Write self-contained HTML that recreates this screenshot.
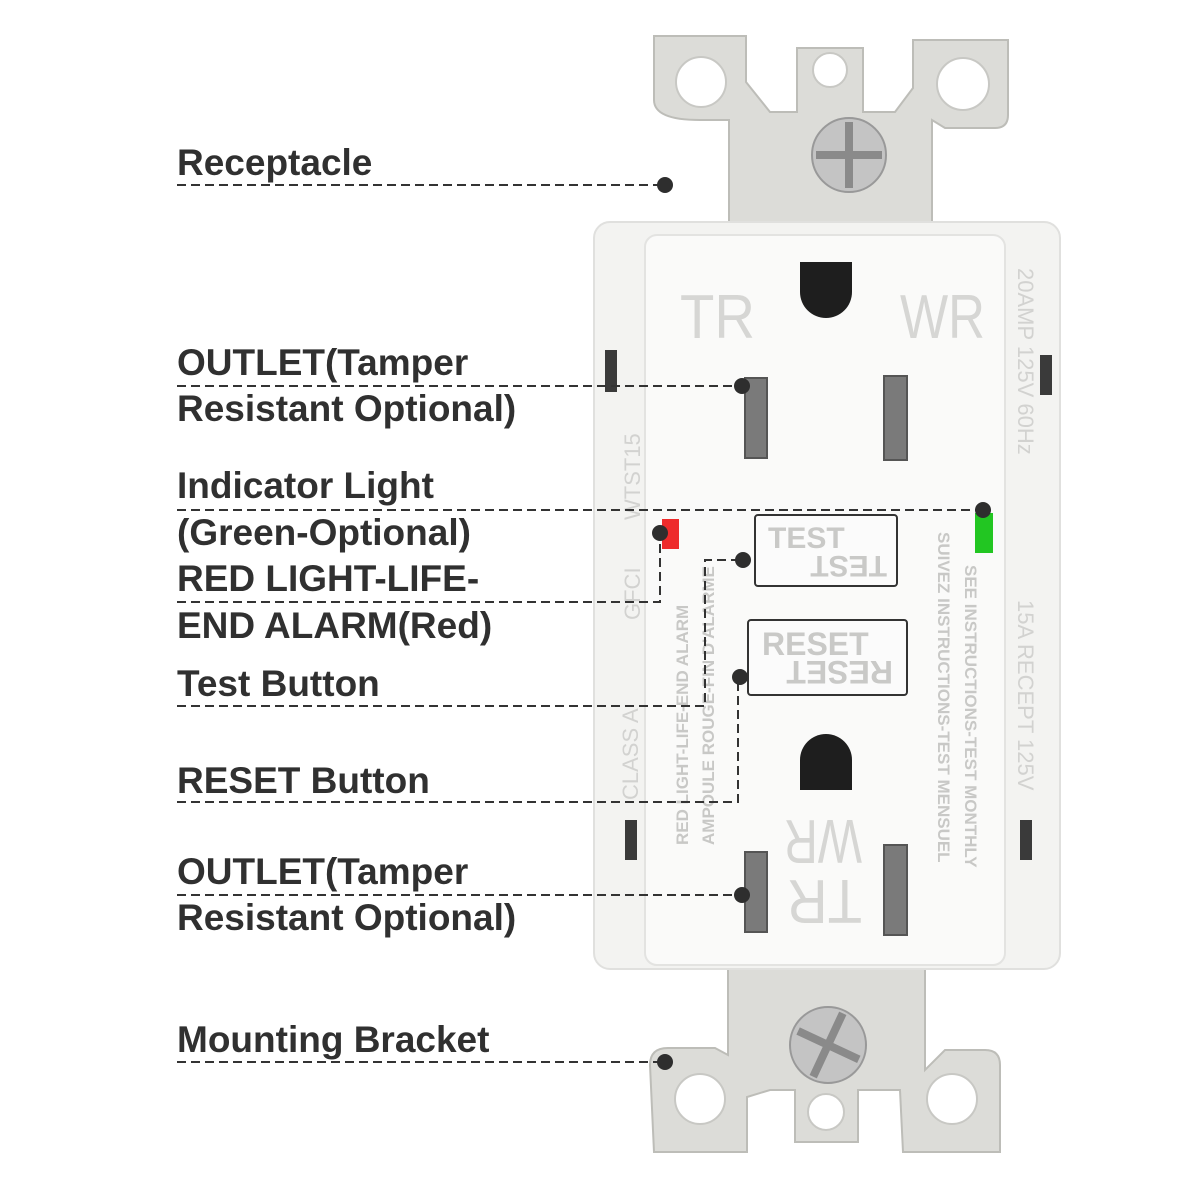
<!DOCTYPE html>
<html><head><style>
html,body{margin:0;padding:0;background:#fff;}
svg{display:block;}
.lb{font-family:"Liberation Sans",sans-serif;font-weight:bold;font-size:37px;fill:#303030;}
.dl{stroke:#333;stroke-width:2;stroke-dasharray:9,5;fill:none;}
.gt{font-family:"Liberation Sans",sans-serif;fill:#d6d6d4;}
.st{font-family:"Liberation Sans",sans-serif;fill:#c9c9c7;font-weight:bold;}
</style></head><body>
<svg width="1200" height="1200" viewBox="0 0 1200 1200" xmlns="http://www.w3.org/2000/svg">
<rect width="1200" height="1200" fill="#fff"/>
<g fill="#dcdcd8" stroke="#bdbdb8" stroke-width="2">
<path d="M654 36 H746 V82 L770 112 L797 112 V48 H863 V112 L895 112 L913 88 V40 H1008 V115 Q1008 128 995 128 H945 L932 120 V240 H729 V120 H700 Q654 120 654 100 Z"/>
<path d="M654 1152 H747 V1097 L770 1090 H795 V1142 H858 V1090 H900 L903 1152 H1000 V1065 Q1000 1050 985 1050 H945 L925 1070 V968 H728 V1055 L715 1048 H668 Q650 1048 650 1065 Z"/>
</g>
<g fill="#fff" stroke="#c8c8c4" stroke-width="2">
<circle cx="701" cy="82" r="25"/><circle cx="830" cy="70" r="17"/><circle cx="963" cy="84" r="26"/>
<circle cx="700" cy="1099" r="25"/><circle cx="826" cy="1112" r="18"/><circle cx="952" cy="1099" r="25"/>
</g>
<g>
<circle cx="849" cy="155" r="37" fill="#c4c4c4" stroke="#999" stroke-width="2"/>
<path d="M849 122 V188 M816 155 H882" stroke="#8a8a8a" stroke-width="8"/>
<circle cx="828" cy="1045" r="38" fill="#c4c4c4" stroke="#999" stroke-width="2"/>
<path d="M828 1010 V1080 M795 1045 H862" stroke="#8a8a8a" stroke-width="8" transform="rotate(25 828 1045)"/>
</g>
<rect x="594" y="222" width="466" height="747" rx="16" fill="#f3f3f1" stroke="#e0e0de" stroke-width="2"/>
<rect x="645" y="235" width="360" height="730" rx="12" fill="#fafaf9" stroke="#e3e3e1" stroke-width="2"/>
<g fill="#3a3a3a">
<rect x="605" y="350" width="12" height="42"/><rect x="1040" y="355" width="12" height="40"/>
<rect x="625" y="820" width="12" height="40"/><rect x="1020" y="820" width="12" height="40"/>
</g>
<path d="M800 262 H852 V292 A26 26 0 0 1 800 292 Z" fill="#1e1e1e"/>
<rect x="745" y="378" width="22" height="80" fill="#7a7a7a" stroke="#555" stroke-width="2"/>
<rect x="884" y="376" width="23" height="84" fill="#7a7a7a" stroke="#555" stroke-width="2"/>
<text class="gt" x="680" y="338" font-size="62" textLength="75" lengthAdjust="spacingAndGlyphs">TR</text>
<text class="gt" x="900" y="338" font-size="62" textLength="85" lengthAdjust="spacingAndGlyphs">WR</text>
<path d="M800 790 H852 V760 A26 26 0 0 0 800 760 Z" fill="#1e1e1e"/>
<rect x="745" y="852" width="22" height="80" fill="#7a7a7a" stroke="#555" stroke-width="2"/>
<rect x="884" y="845" width="23" height="90" fill="#7a7a7a" stroke="#555" stroke-width="2"/>
<text class="gt" font-size="62" textLength="78" lengthAdjust="spacingAndGlyphs" transform="translate(862,820) rotate(180)">WR</text>
<text class="gt" font-size="62" textLength="75" lengthAdjust="spacingAndGlyphs" transform="translate(862,880) rotate(180)">TR</text>
<rect x="755" y="515" width="142" height="71" rx="3" fill="#fbfbfb" stroke="#333" stroke-width="2"/>
<text class="st" x="768" y="548" font-size="30">TEST</text>
<text class="st" font-size="30" transform="translate(887,556) rotate(180)">TEST</text>
<rect x="748" y="620" width="159" height="75" rx="3" fill="#fbfbfb" stroke="#333" stroke-width="2"/>
<text class="st" x="762" y="655" font-size="32">RESET</text>
<text class="st" font-size="32" transform="translate(893,661) rotate(180)">RESET</text>
<rect x="662" y="519" width="17" height="30" fill="#ee2b2b"/>
<rect x="975" y="513" width="18" height="40" fill="#22c622"/>
<g font-family="Liberation Sans,sans-serif" fill="#d2d2d0" font-size="22">
<text transform="translate(1018,268) rotate(90)">20AMP  125V  60Hz</text>
<text transform="translate(1018,600) rotate(90)">15A  RECEPT  125V</text>
<text transform="translate(640,520) rotate(-90)">WTST15</text>
<text transform="translate(640,620) rotate(-90)">GFCI</text>
<text transform="translate(638,800) rotate(-90)">CLASS  A</text>
</g>
<g font-family="Liberation Sans,sans-serif" fill="#c8c8c6" font-size="17" font-weight="bold">
<text transform="translate(965,565) rotate(90)">SEE INSTRUCTIONS-TEST MONTHLY</text>
<text transform="translate(938,532) rotate(90)">SUIVEZ INSTRUCTIONS-TEST MENSUEL</text>
<text transform="translate(688,845) rotate(-90)">RED LIGHT-LIFE-END ALARM</text>
<text transform="translate(714,845) rotate(-90)">AMPOULE ROUGE-FIN D'ALARME</text>
</g>
<text class="lb" x="177" y="175">Receptacle</text>
<text class="lb" x="177" y="375">OUTLET(Tamper</text>
<text class="lb" x="177" y="421">Resistant Optional)</text>
<text class="lb" x="177" y="498">Indicator Light</text>
<text class="lb" x="177" y="545">(Green-Optional)</text>
<text class="lb" x="177" y="591">RED LIGHT-LIFE-</text>
<text class="lb" x="177" y="638">END ALARM(Red)</text>
<text class="lb" x="177" y="696">Test Button</text>
<text class="lb" x="177" y="793">RESET Button</text>
<text class="lb" x="177" y="884">OUTLET(Tamper</text>
<text class="lb" x="177" y="930">Resistant Optional)</text>
<text class="lb" x="177" y="1052">Mounting Bracket</text>
<path class="dl" d="M177 185 H665"/>
<path class="dl" d="M177 386 H742"/>
<path class="dl" d="M177 510 H983"/>
<path class="dl" d="M177 602 H660 V535"/>
<path class="dl" d="M177 706 H705 V560 H743"/>
<path class="dl" d="M177 802 H738 V677"/>
<path class="dl" d="M177 895 H742"/>
<path class="dl" d="M177 1062 H665"/>
<g fill="#2e2e2e">
<circle cx="665" cy="185" r="8"/><circle cx="742" cy="386" r="8"/><circle cx="983" cy="510" r="8"/>
<circle cx="660" cy="533" r="8"/><circle cx="743" cy="560" r="8"/><circle cx="740" cy="677" r="8"/>
<circle cx="742" cy="895" r="8"/><circle cx="665" cy="1062" r="8"/>
</g>
</svg>
</body></html>
